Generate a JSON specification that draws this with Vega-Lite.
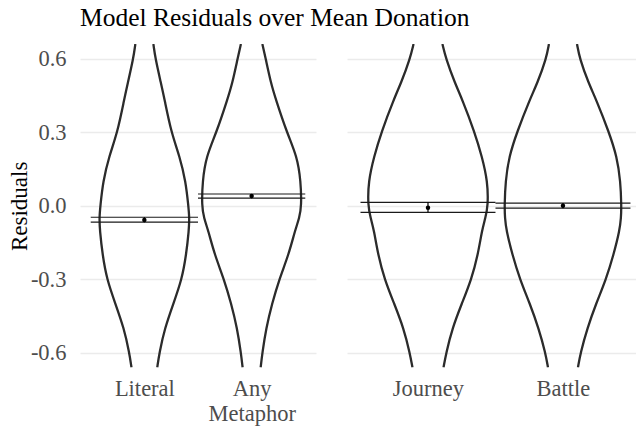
{
  "$schema": "https://vega.github.io/schema/vega-lite/v6.json",
  "background": "white",
  "padding": {"left": 8, "top": 5, "right": 0, "bottom": 0},
  "title": {"text": "Model Residuals over Mean Donation", "anchor": "start", "frame": "group", "font": "Liberation Serif", "fontSize": 25.5, "fontWeight": "normal", "color": "#000000", "offset": 13},
  "config": {
    "view": {"stroke": null},
    "font": "Liberation Serif",
    "axis": {"labelFont": "Liberation Serif", "titleFont": "Liberation Serif", "domain": false, "ticks": false, "labelColor": "#4D4D4D", "gridColor": "#EBEBEB", "gridWidth": 1.5}
  },
  "spacing": 31,
  "datasets": {
    "violin": [
      {"cat": "Literal", "r": 0.66, "w": 0.084},
      {"cat": "Literal", "r": 0.6, "w": 0.103},
      {"cat": "Literal", "r": 0.5, "w": 0.155},
      {"cat": "Literal", "r": 0.436, "w": 0.187},
      {"cat": "Literal", "r": 0.3, "w": 0.25},
      {"cat": "Literal", "r": 0.2, "w": 0.33},
      {"cat": "Literal", "r": 0.1, "w": 0.385},
      {"cat": "Literal", "r": 0.0, "w": 0.41},
      {"cat": "Literal", "r": -0.05, "w": 0.42},
      {"cat": "Literal", "r": -0.1, "w": 0.415},
      {"cat": "Literal", "r": -0.2, "w": 0.39},
      {"cat": "Literal", "r": -0.3, "w": 0.35},
      {"cat": "Literal", "r": -0.4, "w": 0.27},
      {"cat": "Literal", "r": -0.5, "w": 0.19},
      {"cat": "Literal", "r": -0.6, "w": 0.14},
      {"cat": "Literal", "r": -0.66, "w": 0.12},
      {"cat": "Any Metaphor", "r": 0.66, "w": 0.1},
      {"cat": "Any Metaphor", "r": 0.6, "w": 0.131},
      {"cat": "Any Metaphor", "r": 0.5, "w": 0.18},
      {"cat": "Any Metaphor", "r": 0.436, "w": 0.224},
      {"cat": "Any Metaphor", "r": 0.3, "w": 0.327},
      {"cat": "Any Metaphor", "r": 0.2, "w": 0.425},
      {"cat": "Any Metaphor", "r": 0.1, "w": 0.458},
      {"cat": "Any Metaphor", "r": 0.0, "w": 0.465},
      {"cat": "Any Metaphor", "r": -0.05, "w": 0.445},
      {"cat": "Any Metaphor", "r": -0.1, "w": 0.405},
      {"cat": "Any Metaphor", "r": -0.2, "w": 0.345},
      {"cat": "Any Metaphor", "r": -0.3, "w": 0.257},
      {"cat": "Any Metaphor", "r": -0.4, "w": 0.19},
      {"cat": "Any Metaphor", "r": -0.5, "w": 0.135},
      {"cat": "Any Metaphor", "r": -0.6, "w": 0.1},
      {"cat": "Any Metaphor", "r": -0.66, "w": 0.084},
      {"cat": "Journey", "r": 0.66, "w": 0.107},
      {"cat": "Journey", "r": 0.6, "w": 0.133},
      {"cat": "Journey", "r": 0.5, "w": 0.2},
      {"cat": "Journey", "r": 0.436, "w": 0.252},
      {"cat": "Journey", "r": 0.3, "w": 0.346},
      {"cat": "Journey", "r": 0.2, "w": 0.4},
      {"cat": "Journey", "r": 0.1, "w": 0.442},
      {"cat": "Journey", "r": 0.0, "w": 0.445},
      {"cat": "Journey", "r": -0.05, "w": 0.425},
      {"cat": "Journey", "r": -0.1, "w": 0.4},
      {"cat": "Journey", "r": -0.2, "w": 0.37},
      {"cat": "Journey", "r": -0.3, "w": 0.322},
      {"cat": "Journey", "r": -0.4, "w": 0.25},
      {"cat": "Journey", "r": -0.5, "w": 0.18},
      {"cat": "Journey", "r": -0.6, "w": 0.135},
      {"cat": "Journey", "r": -0.66, "w": 0.115},
      {"cat": "Battle", "r": 0.66, "w": 0.104},
      {"cat": "Battle", "r": 0.6, "w": 0.124},
      {"cat": "Battle", "r": 0.5, "w": 0.19},
      {"cat": "Battle", "r": 0.436, "w": 0.244},
      {"cat": "Battle", "r": 0.3, "w": 0.341},
      {"cat": "Battle", "r": 0.2, "w": 0.4},
      {"cat": "Battle", "r": 0.1, "w": 0.426},
      {"cat": "Battle", "r": 0.0, "w": 0.433},
      {"cat": "Battle", "r": -0.05, "w": 0.43},
      {"cat": "Battle", "r": -0.1, "w": 0.42},
      {"cat": "Battle", "r": -0.2, "w": 0.375},
      {"cat": "Battle", "r": -0.3, "w": 0.319},
      {"cat": "Battle", "r": -0.4, "w": 0.245},
      {"cat": "Battle", "r": -0.5, "w": 0.18},
      {"cat": "Battle", "r": -0.6, "w": 0.13},
      {"cat": "Battle", "r": -0.66, "w": 0.111}
    ],
    "stats": [
      {"cat": "Literal", "mean": -0.058, "lo": -0.067, "hi": -0.047},
      {"cat": "Any Metaphor", "mean": 0.04, "lo": 0.031, "hi": 0.048},
      {"cat": "Journey", "mean": -0.008, "lo": -0.027, "hi": 0.014},
      {"cat": "Battle", "mean": 0.0, "lo": -0.01, "hi": 0.011}
    ]
  },
  "hconcat": [
    {
      "width": 236,
      "height": 323.5,
      "layer": [
        {
          "data": {"name": "violin"},
          "transform": [
            {"filter": "datum.cat === 'Literal' || datum.cat === 'Any Metaphor'"},
            {"calculate": "datum.cat === 'Literal' ? 1 : 2", "as": "pos"},
            {"calculate": "datum.pos - datum.w", "as": "left"},
            {"calculate": "datum.pos + datum.w", "as": "right"},
            {"fold": ["left", "right"], "as": ["side", "xv"]}
          ],
          "mark": {"type": "line", "clip": true, "color": "#2b2b2b", "strokeWidth": 2.3, "interpolate": "basis"},
          "encoding": {
            "x": {"field": "xv", "type": "quantitative", "scale": {"domain": [0.4, 2.6], "nice": false, "zero": false},
              "axis": {"values": [1, 2], "grid": false, "title": null, "labelFontSize": 22.5, "labelPadding": 10, "labelLineHeight": 25, "labelFlush": false, "labelOverlap": false, "labelBound": false,
                "labelExpr": "datum.value == 1 ? 'Literal' : ['Any', 'Metaphor']"}},
            "y": {"field": "r", "type": "quantitative", "scale": {"domain": [-0.66, 0.66], "nice": false, "zero": false},
              "axis": {"values": [-0.6, -0.3, 0, 0.3, 0.6], "grid": true, "labelFontSize": 22.5, "labelPadding": 14,
                "labelExpr": "datum.value < 0 ? '-' + format(-datum.value, '.1f') : format(datum.value, '.1f')",
                "title": "Residuals", "titleFontSize": 23, "titleFontWeight": "normal", "titleColor": "#000000",
                "titleX": -53.3, "titleY": 161.8, "titleAngle": -90, "titleBaseline": "alphabetic", "titleAlign": "center"}},
            "detail": [{"field": "cat"}, {"field": "side"}],
            "order": {"field": "r", "type": "quantitative"}
          }
        },
        {
          "data": {"name": "stats"},
          "transform": [
            {"filter": "datum.cat === 'Literal' || datum.cat === 'Any Metaphor'"},
            {"calculate": "datum.cat === 'Literal' ? 1 : 2", "as": "pos"},
            {"calculate": "datum.pos - 0.5", "as": "x0"},
            {"calculate": "datum.pos + 0.5", "as": "x1"},
            {"fold": ["lo", "hi"], "as": ["bound", "yv"]}
          ],
          "mark": {"type": "rule", "color": "#1a1a1a", "strokeWidth": 1.2},
          "encoding": {
            "x": {"field": "x0", "type": "quantitative"},
            "x2": {"field": "x1"},
            "y": {"field": "yv", "type": "quantitative"}
          }
        },
        {
          "data": {"name": "stats"},
          "transform": [
            {"filter": "datum.cat === 'Literal' || datum.cat === 'Any Metaphor'"},
            {"calculate": "datum.cat === 'Literal' ? 1 : 2", "as": "pos"}
          ],
          "mark": {"type": "rule", "color": "#000000", "strokeWidth": 1.2},
          "encoding": {
            "x": {"field": "pos", "type": "quantitative"},
            "y": {"field": "lo", "type": "quantitative"},
            "y2": {"field": "hi"}
          }
        },
        {
          "data": {"name": "stats"},
          "transform": [
            {"filter": "datum.cat === 'Literal' || datum.cat === 'Any Metaphor'"},
            {"calculate": "datum.cat === 'Literal' ? 1 : 2", "as": "pos"}
          ],
          "mark": {"type": "circle", "color": "#000000", "opacity": 1, "size": 20},
          "encoding": {
            "x": {"field": "pos", "type": "quantitative"},
            "y": {"field": "mean", "type": "quantitative"}
          }
        }
      ]
    },
    {
      "width": 289,
      "height": 323.5,
      "layer": [
        {
          "data": {"name": "violin"},
          "transform": [
            {"filter": "datum.cat === 'Journey' || datum.cat === 'Battle'"},
            {"calculate": "datum.cat === 'Journey' ? 1 : 2", "as": "pos"},
            {"calculate": "datum.pos - datum.w", "as": "left"},
            {"calculate": "datum.pos + datum.w", "as": "right"},
            {"fold": ["left", "right"], "as": ["side", "xv"]}
          ],
          "mark": {"type": "line", "clip": true, "color": "#2b2b2b", "strokeWidth": 2.3, "interpolate": "basis"},
          "encoding": {
            "x": {"field": "xv", "type": "quantitative", "scale": {"domain": [0.4, 2.541], "nice": false, "zero": false},
              "axis": {"values": [1, 2], "grid": false, "title": null, "labelFontSize": 22.5, "labelPadding": 10, "labelFlush": false, "labelOverlap": false, "labelBound": false,
                "labelExpr": "datum.value == 1 ? 'Journey' : 'Battle'"}},
            "y": {"field": "r", "type": "quantitative", "scale": {"domain": [-0.66, 0.66], "nice": false, "zero": false},
              "axis": {"values": [-0.6, -0.3, 0, 0.3, 0.6], "grid": true, "labels": false, "title": null}},
            "detail": [{"field": "cat"}, {"field": "side"}],
            "order": {"field": "r", "type": "quantitative"}
          }
        },
        {
          "data": {"name": "stats"},
          "transform": [
            {"filter": "datum.cat === 'Journey' || datum.cat === 'Battle'"},
            {"calculate": "datum.cat === 'Journey' ? 1 : 2", "as": "pos"},
            {"calculate": "datum.pos - 0.5", "as": "x0"},
            {"calculate": "datum.pos + 0.5", "as": "x1"},
            {"fold": ["lo", "hi"], "as": ["bound", "yv"]}
          ],
          "mark": {"type": "rule", "color": "#1a1a1a", "strokeWidth": 1.2},
          "encoding": {
            "x": {"field": "x0", "type": "quantitative"},
            "x2": {"field": "x1"},
            "y": {"field": "yv", "type": "quantitative"}
          }
        },
        {
          "data": {"name": "stats"},
          "transform": [
            {"filter": "datum.cat === 'Journey' || datum.cat === 'Battle'"},
            {"calculate": "datum.cat === 'Journey' ? 1 : 2", "as": "pos"}
          ],
          "mark": {"type": "rule", "color": "#000000", "strokeWidth": 1.2},
          "encoding": {
            "x": {"field": "pos", "type": "quantitative"},
            "y": {"field": "lo", "type": "quantitative"},
            "y2": {"field": "hi"}
          }
        },
        {
          "data": {"name": "stats"},
          "transform": [
            {"filter": "datum.cat === 'Journey' || datum.cat === 'Battle'"},
            {"calculate": "datum.cat === 'Journey' ? 1 : 2", "as": "pos"}
          ],
          "mark": {"type": "circle", "color": "#000000", "opacity": 1, "size": 20},
          "encoding": {
            "x": {"field": "pos", "type": "quantitative"},
            "y": {"field": "mean", "type": "quantitative"}
          }
        }
      ]
    }
  ]
}
